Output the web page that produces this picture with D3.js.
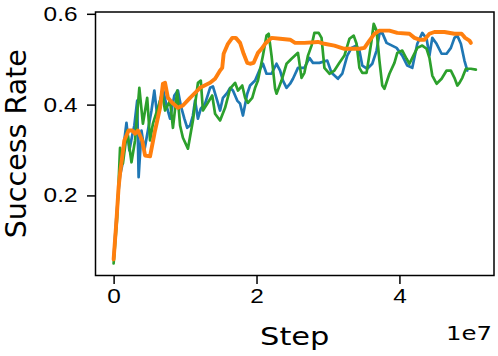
<!DOCTYPE html>
<html>
<head>
<meta charset="utf-8">
<script src="https://cdn.jsdelivr.net/npm/d3@7"></script>
<style>
  body { margin: 0; background: #fff; }
  svg { display: block; font-family: "DejaVu Sans", sans-serif; }
  .axis path, .axis line { stroke: #000; stroke-width: 1.5; }
  .axis text { font-size: 20px; fill: #000; }
</style>
</head>
<body>
<div id="chart"></div>
<script>
// step values are in units of 1e7
const blueStep = [0.00,0.04,0.07,0.09,0.12,0.15,0.18,0.22,0.26,0.29,0.33,0.35,0.39,0.43,0.48,0.53,0.57,0.61,0.65,0.69,0.74,0.79,0.85,0.90,0.94,0.99,1.03,1.07,1.11,1.14,1.18,1.22,1.28,1.35,1.39,1.45,1.49,1.53,1.59,1.63,1.67,1.73,1.77,1.81,1.87,1.91,1.98,2.05,2.09,2.14,2.21,2.28,2.33,2.37,2.42,2.47,2.51,2.58,2.67,2.74,2.79,2.88,2.99,3.05,3.14,3.20,3.27,3.33,3.40,3.44,3.48,3.55,3.62,3.68,3.72,3.76,3.82,3.96,4.04,4.11,4.18,4.25,4.32,4.38,4.42,4.46,4.52,4.59,4.66,4.72,4.77,4.81,4.86,4.91,4.95];
const blueRate = [0.061,0.156,0.211,0.244,0.266,0.321,0.360,0.299,0.332,0.354,0.409,0.240,0.343,0.299,0.343,0.387,0.431,0.376,0.409,0.435,0.398,0.369,0.420,0.431,0.398,0.369,0.349,0.354,0.376,0.409,0.369,0.391,0.402,0.437,0.440,0.409,0.387,0.415,0.426,0.437,0.431,0.409,0.402,0.376,0.424,0.442,0.453,0.479,0.490,0.468,0.468,0.490,0.475,0.453,0.437,0.446,0.457,0.481,0.481,0.503,0.492,0.492,0.497,0.470,0.457,0.468,0.508,0.525,0.530,0.519,0.486,0.479,0.490,0.519,0.556,0.558,0.536,0.525,0.508,0.486,0.481,0.534,0.558,0.545,0.508,0.547,0.534,0.512,0.512,0.525,0.547,0.552,0.534,0.497,0.475];

const greenStep = [0.00,0.05,0.09,0.13,0.19,0.25,0.30,0.36,0.41,0.47,0.51,0.55,0.62,0.68,0.72,0.79,0.83,0.89,0.93,0.97,1.04,1.11,1.18,1.22,1.25,1.31,1.38,1.42,1.49,1.56,1.63,1.70,1.74,1.80,1.84,1.88,1.94,1.98,2.02,2.09,2.14,2.17,2.21,2.26,2.28,2.35,2.42,2.49,2.58,2.63,2.67,2.72,2.77,2.81,2.87,2.91,2.95,3.02,3.09,3.16,3.23,3.30,3.36,3.40,3.44,3.48,3.54,3.61,3.64,3.68,3.72,3.76,3.79,3.86,3.93,3.97,4.04,4.10,4.14,4.18,4.25,4.32,4.38,4.42,4.46,4.52,4.59,4.66,4.72,4.77,4.81,4.84,4.88,4.93,5.00,5.07];
const greenRate = [0.050,0.152,0.305,0.270,0.343,0.273,0.321,0.437,0.358,0.415,0.321,0.358,0.393,0.424,0.387,0.409,0.349,0.431,0.354,0.327,0.303,0.365,0.448,0.453,0.387,0.402,0.420,0.380,0.365,0.393,0.435,0.448,0.431,0.442,0.415,0.404,0.415,0.437,0.453,0.508,0.552,0.556,0.508,0.435,0.424,0.453,0.490,0.501,0.514,0.459,0.470,0.508,0.530,0.558,0.558,0.547,0.481,0.468,0.475,0.492,0.508,0.545,0.552,0.534,0.481,0.470,0.470,0.541,0.578,0.563,0.497,0.442,0.435,0.468,0.492,0.514,0.519,0.501,0.490,0.503,0.525,0.530,0.523,0.503,0.464,0.446,0.457,0.475,0.475,0.459,0.442,0.448,0.459,0.479,0.479,0.477];

const orangeStep = [0.00,0.04,0.07,0.09,0.15,0.21,0.26,0.30,0.34,0.40,0.44,0.51,0.58,0.65,0.69,0.72,0.76,0.82,0.90,0.97,1.07,1.21,1.35,1.42,1.49,1.52,1.54,1.60,1.66,1.71,1.77,1.82,1.87,1.91,1.96,2.02,2.07,2.12,2.21,2.33,2.47,2.54,2.67,2.86,2.95,3.09,3.23,3.44,3.51,3.58,3.65,3.72,3.86,3.97,4.14,4.21,4.28,4.35,4.42,4.49,4.63,4.77,4.87,4.92,4.98,5.00];
const orangeRate = [0.059,0.145,0.218,0.248,0.321,0.343,0.343,0.336,0.343,0.321,0.288,0.286,0.343,0.393,0.446,0.448,0.415,0.404,0.393,0.398,0.415,0.437,0.448,0.457,0.475,0.481,0.512,0.534,0.547,0.547,0.536,0.512,0.492,0.490,0.492,0.514,0.523,0.534,0.547,0.545,0.543,0.536,0.536,0.538,0.534,0.530,0.523,0.523,0.525,0.541,0.556,0.563,0.563,0.558,0.556,0.547,0.543,0.543,0.556,0.560,0.560,0.556,0.556,0.547,0.541,0.536];

const xTicks = [0, 2, 4];
const yTicks = [0.2, 0.4, 0.6];

const series = [
  { step: blueStep, rate: blueRate, color: "#1f77b4", w: 2.7 },
  { step: greenStep, rate: greenRate, color: "#2ca02c", w: 2.7 },
  { step: orangeStep, rate: orangeRate, color: "#ff7f0e", w: 3.9 }
];

const W = 498, H = 356;
const margin = { top: 12, right: 4, bottom: 80.5, left: 95.5 };
const width = W - margin.left - margin.right;
const height = H - margin.top - margin.bottom;
const stretch = 1.22; // horizontal text in the reference is wider than plain DejaVu

const svg = d3.select("#chart").append("svg")
  .attr("width", W)
  .attr("height", H)
  .append("g")
  .attr("transform", `translate(${margin.left},${margin.top})`);

const x = d3.scaleLinear().domain([-0.2535, 5.3235]).range([0, width]);
const y = d3.scaleLinear().domain([0.0236, 0.604]).range([height, 0]);

const line = d3.line()
  .x(d => x(d[0]))
  .y(d => y(d[1]));

series.forEach(s => {
  svg.append("path")
    .datum(s.step.map((v, i) => [v, s.rate[i]]))
    .attr("fill", "none")
    .attr("stroke", s.color)
    .attr("stroke-width", s.w)
    .attr("stroke-linejoin", "round")
    .attr("stroke-linecap", "round")
    .attr("d", line);
});

// frame
svg.append("rect")
  .attr("width", width)
  .attr("height", height)
  .attr("fill", "none")
  .attr("stroke", "#000")
  .attr("stroke-width", 1.5);

svg.append("g")
  .attr("class", "axis")
  .attr("transform", `translate(0,${height})`)
  .call(d3.axisBottom(x).tickValues(xTicks).tickFormat(d3.format("d")).tickSize(8.5).tickPadding(5))
  .call(g => g.select(".domain").remove())
  .call(g => g.selectAll(".tick text").attr("transform", `scale(${stretch},1)`));

svg.append("g")
  .attr("class", "axis")
  .call(d3.axisLeft(y).tickValues(yTicks).tickFormat(d3.format(".1f")).tickSize(8.5).tickPadding(9))
  .call(g => g.select(".domain").remove())
  .call(g => g.selectAll(".tick text").attr("x", 0).attr("transform", `translate(-18,0) scale(${stretch},1)`));

svg.append("text")
  .attr("transform", `translate(${width / 2},${345 - margin.top}) scale(${stretch},1)`)
  .attr("text-anchor", "middle")
  .attr("font-size", 25)
  .text("Step");

svg.append("text")
  .attr("transform", `translate(${width - 2},${340 - margin.top}) scale(${stretch},1)`)
  .attr("text-anchor", "end")
  .attr("font-size", 20)
  .text("1e7");

svg.append("text")
  .attr("transform", `translate(${26 - margin.left},${height / 2}) rotate(-90)`)
  .attr("text-anchor", "middle")
  .attr("font-size", 28.5)
  .text("Success Rate");
</script>
</body>
</html>
